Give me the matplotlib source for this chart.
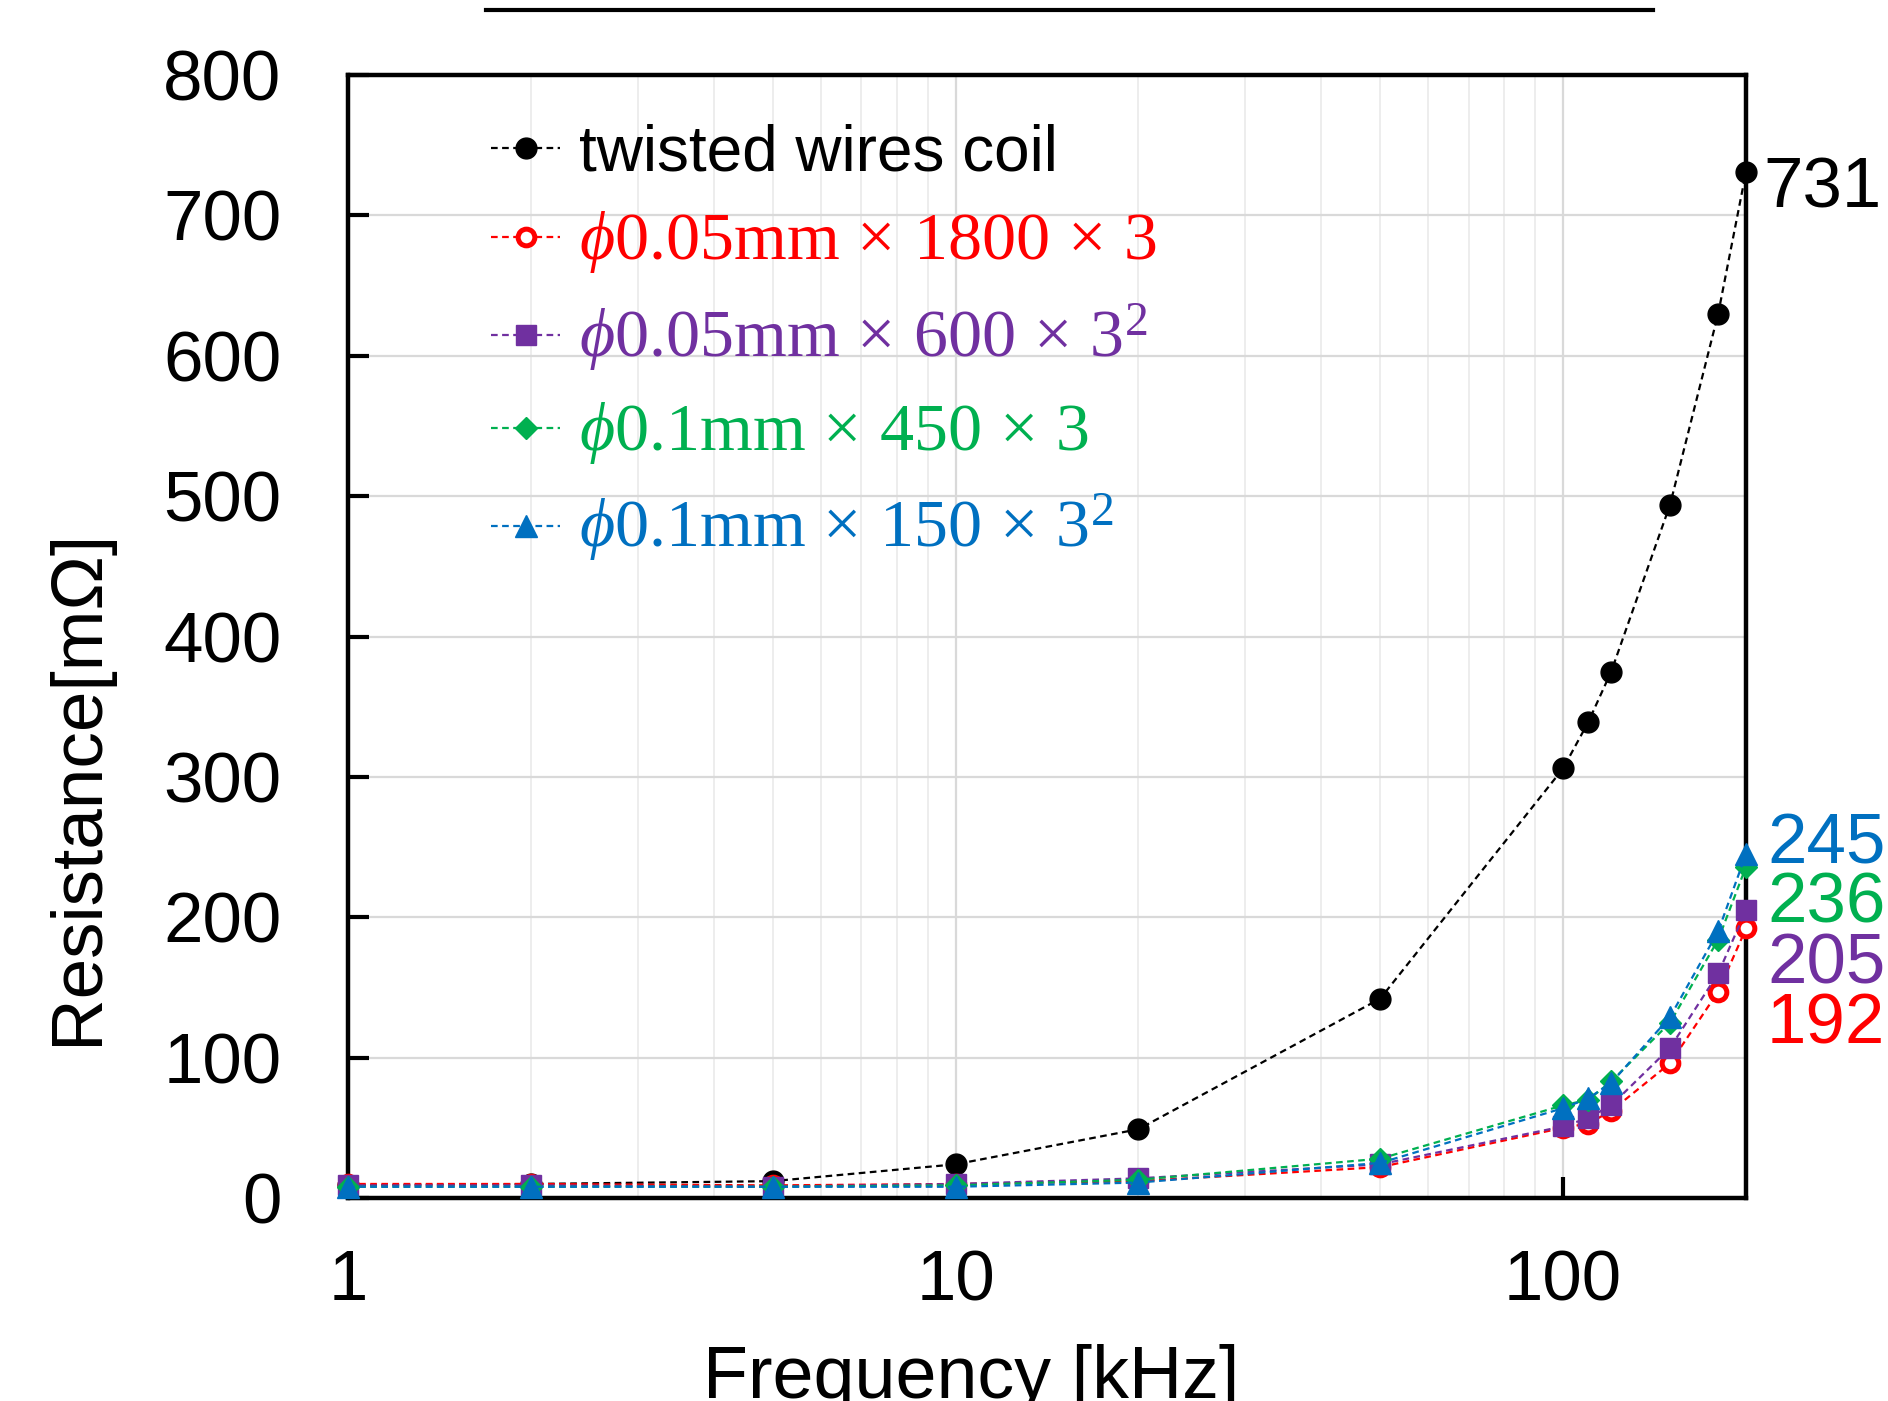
import matplotlib
matplotlib.use("Agg")
import matplotlib.pyplot as plt
from matplotlib.lines import Line2D
from matplotlib.ticker import FixedLocator, FixedFormatter, NullFormatter, LogLocator

# ---- data ----
freq_khz = [1, 2, 5, 10, 20, 50, 100, 110, 120, 150, 180, 200]
twisted = [9, 10, 12, 24, 49, 142, 306, 339, 375, 494, 630, 731]
d005_1800 = [10, 10, 9, 10, 12, 22, 50, 53, 62, 96, 147, 192]
d005_600 = [9, 9, 8, 10, 14, 24, 51, 57, 66, 107, 160, 205]
d01_450 = [8, 8, 8, 9, 13, 28, 66, 70, 83, 125, 184, 236]
d01_150 = [8, 8, 8, 8, 11, 25, 64, 71, 82, 129, 190, 245]

labels = [
    "twisted wires coil",
    r"$\phi\mathrm{0.05mm}\,\times\,1800\,\times\,3$",
    r"$\phi\mathrm{0.05mm}\,\times\,600\,\times\,3^2$",
    r"$\phi\mathrm{0.1mm}\,\times\,450\,\times\,3$",
    r"$\phi\mathrm{0.1mm}\,\times\,150\,\times\,3^2$",
]
end_labels = ["731", "192", "205", "236", "245"]
y_ticks = [0, 100, 200, 300, 400, 500, 600, 700, 800]
x_ticks = [1, 10, 100]
x_ticklabels = ["1", "10", "100"]

plt.rcParams["font.family"] = ["Liberation Sans", "DejaVu Sans"]
plt.rcParams["mathtext.fontset"] = "custom"
plt.rcParams["mathtext.rm"] = "Liberation Serif"
plt.rcParams["mathtext.it"] = "Liberation Serif:italic"
plt.rcParams["mathtext.bf"] = "Liberation Serif:bold"

W, H = 1888, 1401
fig = plt.figure(figsize=(W / 100, H / 100), dpi=100)
ax = fig.add_axes([348 / W, 1 - 1198 / H, (1746 - 348) / W, (1198 - 75) / H])

series = [twisted, d005_1800, d005_600, d01_450, d01_150]
colors = ["#000000", "#FF0000", "#7030A0", "#00B050", "#0070C0"]
markers = ["o", "o", "s", "D", "^"]
msizes = [15, 12, 15, 11, 16]
mfcs = ["#000000", "white", "#7030A0", "#00B050", "#0070C0"]
mews = [1, 3.6, 1, 1, 1]

handles = []
for i, (ys, c, m, ms, mfc, mew) in enumerate(zip(series, colors, markers, msizes, mfcs, mews)):
    h, = ax.plot(freq_khz, ys, linestyle=(0, (3, 2)), lw=1.6, color=c,
                 marker=m, ms=ms, mfc=mfc, mec=c, mew=mew, zorder=3 + i,
                 label=labels[i], clip_on=False)
    handles.append(h)

ax.set_xscale("log")
ax.set_xlim(1, 200)
ax.set_ylim(0, 800)
ax.xaxis.set_major_locator(FixedLocator(x_ticks))
ax.xaxis.set_major_formatter(FixedFormatter(x_ticklabels))
ax.xaxis.set_minor_locator(LogLocator(base=10, subs=range(2, 10)))
ax.xaxis.set_minor_formatter(NullFormatter())
ax.set_yticks(y_ticks)

ax.grid(which="major", color="#d9d9d9", lw=1.6, zorder=0)
ax.grid(which="minor", axis="x", color="#ececec", lw=1.3, zorder=0)
ax.set_axisbelow(True)

for sp in ax.spines.values():
    sp.set_linewidth(3.2)
    sp.set_color("black")

ax.tick_params(axis="both", which="major", direction="in", length=15, width=3,
               labelsize=51, colors="black")
ax.tick_params(axis="y", pad=48)
ax.tick_params(axis="x", pad=37)
ax.tick_params(axis="x", which="minor", length=0)

# axis labels
fig.text(971 / W, 1 - 1398 / H, "Frequency [kHz]", fontsize=53,
         ha="center", va="baseline")
fig.text(97 / W, 1 - 787 / H, "Resistance[m\u03a9]", fontsize=52.5,
         rotation=90, rotation_mode="anchor", ha="center", va="baseline")

# end-value annotations
offsets = [(17, -36), (21, -115), (21, -73), (21, -56), (21, -9)]
for ys, c, lab, off in zip(series, colors, end_labels, offsets):
    ax.annotate(lab, xy=(freq_khz[-1], ys[-1]), xytext=off,
                textcoords="offset pixels", ha="left", va="baseline",
                fontsize=51, color=c, annotation_clip=False)

# legend
leg = ax.legend(handles=handles, loc="upper left",
                bbox_to_anchor=((491 - 348) / 1398, 0.957),
                frameon=False, fontsize=46, handlelength=1.08,
                handletextpad=0.3, labelspacing=0.41, borderpad=0,
                borderaxespad=0)
for t, c in zip(leg.get_texts(), colors):
    t.set_color(c)
for t in leg.get_texts()[1:]:
    t.set_fontsize(49)

# decorative top rule
fig.add_artist(Line2D([486 / W, 1653 / W], [1 - 10 / H, 1 - 10 / H],
                      transform=fig.transFigure, color="black", lw=3))

fig.savefig("out.png", dpi=100)
